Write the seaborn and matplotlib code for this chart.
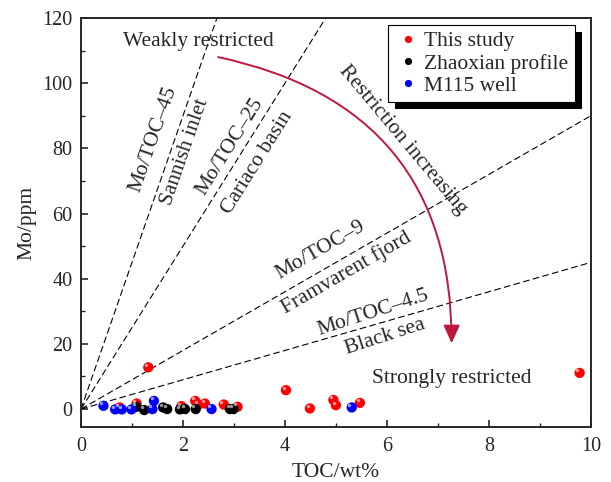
import pandas as pd
import seaborn as sns
import matplotlib.pyplot as plt
from matplotlib.patches import FancyArrowPatch, Rectangle
from matplotlib.transforms import IdentityTransform
import numpy as np

# sample data (TOC wt%, Mo ppm)
this_toc = [1.32, 4.02, 0.76, 1.09, 2.24, 2.30, 2.43, 1.97, 2.80, 3.07, 4.49, 4.95, 5.00, 5.47, 9.78]
this_mo = [12.8, 5.8, 0.5, 1.7, 2.5, 1.3, 1.7, 0.9, 1.4, 0.7, 0.2, 2.8, 1.2, 1.9, 11.1]
zhao_toc = [1.09, 1.24, 1.61, 1.69, 1.94, 2.04, 2.25, 2.92, 2.99]
zhao_mo = [0.7, -0.3, 0.5, 0.0, -0.1, 0.0, 0.0, 0.0, 0.0]
m115_toc = [0.44, 0.67, 0.80, 0.99, 1.43, 1.40, 2.56, 5.31]
m115_mo = [1.0, -0.1, -0.1, -0.1, 2.5, 0.0, 0.0, 0.5]

groups = ['This study', 'Zhaoxian profile', 'M115 well']
colors = ['#ff0000', '#000000', '#0000ff']

# reference Mo/TOC ratios
ratios = [45, 25, 9, 4.5]

df = pd.DataFrame({
    'TOC': this_toc + zhao_toc + m115_toc,
    'Mo': this_mo + zhao_mo + m115_mo,
    'group': [groups[0]] * len(this_toc) + [groups[1]] * len(zhao_toc) + [groups[2]] * len(m115_toc),
})

sns.set_style("ticks")
plt.rcParams['font.family'] = ['Liberation Serif', 'DejaVu Serif']

fig = plt.figure(figsize=(6.11, 4.82), dpi=100)
ax = fig.add_axes([0.1326, 0.1141, 0.8344, 0.8486])

xs = np.array([0, 10])
for r in ratios:
    ax.plot(xs, r * xs, ls=(0, (6, 3)), color='black', lw=0.8, zorder=1)

sns.scatterplot(data=df, x='TOC', y='Mo', hue='group', palette=colors,
                hue_order=groups, s=55, edgecolor='none', ax=ax, zorder=3)
# small highlight to mimic the shaded spheres
ax.scatter(np.array(df['TOC']) - 0.045, np.array(df['Mo']) + 0.8, s=6,
           color='white', alpha=0.6, lw=0, zorder=4)

ax.set_xlim(0, 10)
ax.set_ylim(-5.5, 120)
ax.set_xticks(range(0, 11, 2))
ax.set_xticks(range(1, 11, 2), minor=True)
ax.set_yticks(range(0, 121, 20))
ax.set_yticks(range(10, 121, 20), minor=True)
ax.tick_params(direction='in', labelsize=14.5, width=1.2, length=5)
ax.tick_params(axis='x', pad=7)
ax.tick_params(axis='y', pad=6)
ax.tick_params(which='minor', direction='in', width=1.0, length=3)
for sp in ax.spines.values():
    sp.set_linewidth(1.4)
ax.set_xlabel('TOC/wt%', fontsize=15.5, labelpad=5)
ax.set_ylabel('Mo/ppm', fontsize=15.5, labelpad=4)

fs = 15.5
ax.text(2.31, 112.9, 'Weakly restricted', fontsize=fs, ha='center', va='center')
ax.text(7.27, 9.5, 'Strongly restricted', fontsize=fs, ha='center', va='center')
ax.text(1.41, 82.8, 'Mo/TOC\u201345', fontsize=fs, rotation=70.8, ha='center', va='center')
ax.text(2.04, 78.8, 'Sannish inlet', fontsize=fs, rotation=70.8, ha='center', va='center')
ax.text(2.92, 80.4, 'Mo/TOC\u201325', fontsize=fs, rotation=58, ha='center', va='center')
ax.text(3.45, 75.5, 'Cariaco basin', fontsize=fs, rotation=58, ha='center', va='center')
ax.text(4.69, 48.8, 'Mo/TOC\u20139', fontsize=fs, rotation=30, ha='center', va='center')
ax.text(5.20, 41.7, 'Framvarent fjord', fontsize=fs, rotation=30, ha='center', va='center')
ax.text(5.73, 29.4, 'Mo/TOC\u20134.5', fontsize=fs, rotation=18, ha='center', va='center')
ax.text(5.96, 22.0, 'Black sea', fontsize=fs, rotation=18, ha='center', va='center')
ax.text(6.31, 82.5, 'Restriction increasing', fontsize=fs, rotation=-50, ha='center', va='center')

arrow = FancyArrowPatch((2.69, 108), (7.27, 20.2),
                        connectionstyle='angle3,angleA=-12,angleB=90',
                        arrowstyle='-|>,head_length=11,head_width=5', color='#c0183a',
                        lw=1.4, shrinkA=0, shrinkB=0, zorder=2)
ax.add_patch(arrow)

leg = ax.legend(loc='upper right', bbox_to_anchor=(0.969, 0.983), borderaxespad=0,
                fontsize=15.5, frameon=True, fancybox=False, handletextpad=0.1,
                borderpad=0.3, labelspacing=0.1, handlelength=1.3, markerscale=0.7)
leg.get_frame().set_edgecolor('black')
leg.get_frame().set_linewidth(0.8)
leg.get_frame().set_alpha(1)

# thick offset shadow behind the legend box
fig.canvas.draw()
bb = leg.get_window_extent()
ax.add_patch(Rectangle((bb.x0 + 7, bb.y0 - 7), bb.width, bb.height, transform=IdentityTransform(),
                       facecolor='black', edgecolor='none', zorder=4.9, clip_on=False))

fig.savefig('out.png', dpi=100)
